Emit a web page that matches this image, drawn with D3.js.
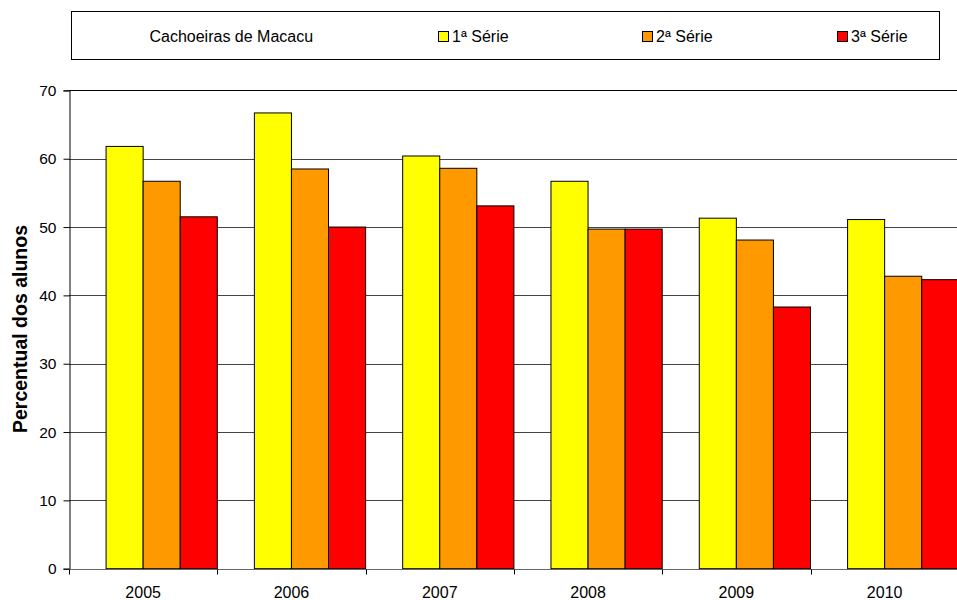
<!DOCTYPE html>
<html>
<head>
  <meta charset="utf-8">
  <title>Cachoeiras de Macacu</title>
  <script src="https://d3js.org/d3.v7.min.js"></script>
  <style>
    body { margin: 0; background: #fff; }
    svg { font-family: "Liberation Sans", Arial, sans-serif; }
  </style>
</head>
<body>
<svg class="chart" width="957" height="600"></svg>
<script>
// Data
const years = ["2005", "2006", "2007", "2008", "2009", "2010"];
const series = ["1ª Série", "2ª Série", "3ª Série"];
const serie1 = [61.8, 66.7, 60.4, 56.7, 51.3, 51.1];
const serie2 = [56.7, 58.5, 58.6, 49.7, 48.1, 42.8];
const serie3 = [51.5, 50.0, 53.1, 49.7, 38.3, 42.3];
const colors = ["#FFFF00", "#FF9900", "#FF0000"];
const yTicks = [0, 10, 20, 30, 40, 50, 60, 70];

const values = [serie1, serie2, serie3];

// Plot area
const plotLeft = 69, plotTop = 90.4, plotBottom = 568.7, band = 148.3;
const svg = d3.select(".chart");

const x = d3.scaleBand()
  .domain(years)
  .range([plotLeft, plotLeft + band * years.length])
  .padding(0);

const y = d3.scaleLinear()
  .domain([0, 70])
  .range([plotBottom, plotTop]);

// Gridlines
svg.append("g")
  .selectAll("line")
  .data(yTicks.filter(d => d > 0))
  .join("line")
    .attr("x1", plotLeft)
    .attr("x2", 957)
    .attr("y1", d => Math.round(y(d)) + 0.5)
    .attr("y2", d => Math.round(y(d)) + 0.5)
    .attr("stroke", d => d == 70 ? "#000" : "#444")
    .attr("stroke-width", 1);

// Bars
const rows = years.map((yr, i) => ({year: yr, vals: values.map(v => v[i])}));
const groups = svg.append("g")
  .selectAll("g")
  .data(rows)
  .join("g");

groups.selectAll("rect")
  .data(d => d.vals.map((v, k) => ({year: d.year, k: k, v: v})))
  .join("rect")
    .attr("x", d => x(d.year) + x.bandwidth() * (0.25 + d.k * 0.25))
    .attr("y", d => y(d.v))
    .attr("width", x.bandwidth() / 4)
    .attr("height", d => y(0) - y(d.v))
    .attr("fill", d => colors[d.k])
    .attr("stroke", "#000")
    .attr("stroke-width", 1);

// Y axis
const yAxis = svg.append("g")
  .attr("transform", `translate(${plotLeft + 0.5}, 0)`)
  .call(d3.axisLeft(y).tickValues(yTicks).tickSize(6).tickPadding(7));
yAxis.select(".domain").attr("stroke", "#000");
yAxis.selectAll(".tick line").attr("stroke", "#000");
yAxis.selectAll("text")
  .style("font-size", "15.5px")
  .style("font-family", "'Liberation Sans', Arial, sans-serif")
  .attr("fill", "#000");

// X axis
const xAxis = svg.append("g")
  .attr("transform", `translate(0, ${Math.round(plotBottom) + 0.5})`);
xAxis.append("line")
  .attr("x1", plotLeft).attr("x2", 957)
  .attr("stroke", "#666");
xAxis.selectAll(".tk")
  .data(years.concat(["end"]))
  .join("line")
    .attr("class", "tk")
    .attr("x1", (d, i) => Math.round(plotLeft + band * i) + 0.5)
    .attr("x2", (d, i) => Math.round(plotLeft + band * i) + 0.5)
    .attr("y1", 0).attr("y2", 5)
    .attr("stroke", "#000");
xAxis.selectAll("text")
  .data(years)
  .join("text")
    .attr("x", d => x(d) + x.bandwidth() / 2)
    .attr("y", 28)
    .attr("text-anchor", "middle")
    .style("font-size", "16px")
    .text(d => d);

// Y title
svg.append("text")
  .attr("transform", "translate(27, 329) rotate(-90)")
  .attr("text-anchor", "middle")
  .style("font-size", "19.5px")
  .style("font-weight", "bold")
  .text("Percentual dos alunos");

// Legend box
const legend = svg.append("g");
legend.append("rect")
  .attr("x", 71.5).attr("y", 11.5)
  .attr("width", 868).attr("height", 48)
  .attr("fill", "#fff")
  .attr("stroke", "#000");
legend.append("text")
  .attr("x", 231.3).attr("y", 42)
  .attr("text-anchor", "middle")
  .style("font-size", "16px")
  .text("Cachoeiras de Macacu");

const legendX = [438, 642, 837];
series.forEach((s, k) => {
  legend.append("rect")
    .attr("x", legendX[k] + 0.5).attr("y", 31.5)
    .attr("width", 10).attr("height", 10)
    .attr("fill", colors[k])
    .attr("stroke", "#000");
  legend.append("text")
    .attr("x", legendX[k] + 14).attr("y", 42)
    .style("font-size", "16px")
    .text(s);
});
</script>
</body>
</html>
